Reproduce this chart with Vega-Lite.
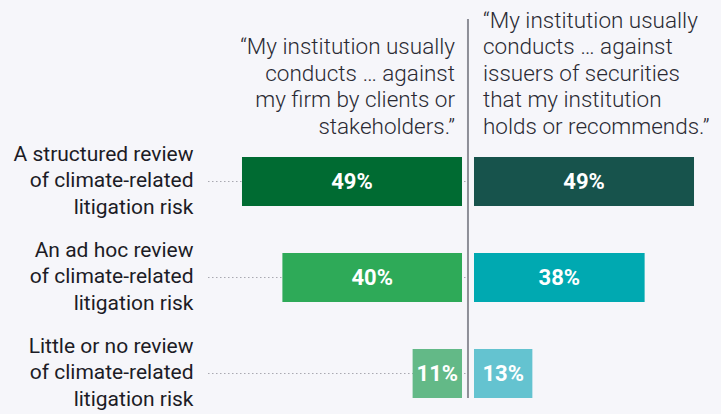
{
  "$schema": "https://vega.github.io/schema/vega-lite/v6.json",
  "autosize": {"type": "none"},
  "padding": {"left": 208, "top": 19, "right": 0, "bottom": 16},
  "width": 513,
  "height": 379,
  "background": "#f6f6fa",
  "config": {
    "view": {"stroke": null},
    "axisY": {
      "title": null,
      "domain": false,
      "ticks": false,
      "grid": false,
      "labelPadding": 15,
      "labelFont": "Roboto",
      "labelFontSize": 21,
      "labelColor": "#1c1c26",
      "labelAlign": "right",
      "labelBaseline": "middle",
      "labelLineHeight": 26.5,
      "labelOffset": -27,
      "labelLimit": 300,
      "labelExpr": "split(datum.label, '|')"
    }
  },
  "datasets": {
    "left": [
      {"label": "A structured review|of climate-related|litigation risk", "value": 0.49},
      {"label": "An ad hoc review|of climate-related|litigation risk", "value": 0.40},
      {"label": "Little or no review|of climate-related|litigation risk", "value": 0.11}
    ],
    "right": [
      {"label": "A structured review|of climate-related|litigation risk", "value": 0.49},
      {"label": "An ad hoc review|of climate-related|litigation risk", "value": 0.38},
      {"label": "Little or no review|of climate-related|litigation risk", "value": 0.13}
    ]
  },
  "layer": [
    {
      "data": {"name": "left"},
      "layer": [
        {
          "mark": {"type": "rule", "strokeDash": [1.5, 2.5], "color": "#a8a8b0", "strokeWidth": 1},
          "encoding": {
            "y": {
              "field": "label", "type": "nominal",
              "scale": {
                "domain": [
                  "A structured review|of climate-related|litigation risk",
                  "An ad hoc review|of climate-related|litigation risk",
                  "Little or no review|of climate-related|litigation risk"
                ],
                "paddingInner": 0.49, "paddingOuter": 0.719, "align": 1
              }
            },
            "x": {"datum": 0.5657, "type": "quantitative", "scale": {"domain": [-0.5768, 0.5657], "reverse": true, "nice": false}, "axis": null},
            "x2": {"datum": -0.01}
          }
        },
        {
          "mark": {"type": "bar"},
          "encoding": {
            "y": {"field": "label", "type": "nominal"},
            "x": {"field": "value", "type": "quantitative"},
            "color": {
              "field": "label", "type": "nominal", "legend": null,
              "scale": {
                "domain": [
                  "A structured review|of climate-related|litigation risk",
                  "An ad hoc review|of climate-related|litigation risk",
                  "Little or no review|of climate-related|litigation risk"
                ],
                "range": ["#006b32", "#2eaa58", "#63b987"]
              }
            }
          }
        },
        {
          "mark": {"type": "text", "color": "white", "font": "Roboto", "fontWeight": "bold", "fontSize": 22},
          "encoding": {
            "y": {"field": "label", "type": "nominal"},
            "x": {"field": "value", "type": "quantitative", "stack": "zero", "bandPosition": 0.5},
            "text": {"field": "value", "type": "quantitative", "format": ".0%"}
          }
        },
        {
          "data": {"values": [{"t": "“My institution usually|conducts … against|my firm by clients or|stakeholders.”"}]},
          "mark": {"type": "text", "align": "right", "baseline": "alphabetic", "lineBreak": "|", "lineHeight": 26.5, "font": "Roboto", "fontWeight": 300, "fontSize": 22.5, "color": "#2a2a33", "dx": -7, "dy": -103},
          "encoding": {
            "y": {"datum": "A structured review|of climate-related|litigation risk", "type": "nominal", "bandPosition": 0},
            "x": {"datum": 0, "type": "quantitative"},
            "text": {"field": "t"}
          }
        }
      ]
    },
    {
      "data": {"name": "right"},
      "layer": [
        {
          "mark": {"type": "bar"},
          "encoding": {
            "y": {"field": "label", "type": "nominal"},
            "x": {"field": "value", "type": "quantitative", "scale": {"domain": [-0.5924, 0.5501], "nice": false}, "axis": null},
            "color": {
              "field": "label", "type": "nominal", "legend": null,
              "scale": {
                "domain": [
                  "A structured review|of climate-related|litigation risk",
                  "An ad hoc review|of climate-related|litigation risk",
                  "Little or no review|of climate-related|litigation risk"
                ],
                "range": ["#17534c", "#00a9b1", "#64c3d0"]
              }
            }
          }
        },
        {
          "mark": {"type": "text", "color": "white", "font": "Roboto", "fontWeight": "bold", "fontSize": 22},
          "encoding": {
            "y": {"field": "label", "type": "nominal"},
            "x": {"field": "value", "type": "quantitative", "stack": "zero", "bandPosition": 0.5},
            "text": {"field": "value", "type": "quantitative", "format": ".0%"}
          }
        },
        {
          "data": {"values": [{"t": "“My institution usually|conducts … against|issuers of securities|that my institution|holds or recommends.”"}]},
          "mark": {"type": "text", "align": "left", "baseline": "alphabetic", "lineBreak": "|", "lineHeight": 26.5, "font": "Roboto", "fontWeight": 300, "fontSize": 22.5, "color": "#2a2a33", "dx": 9, "dy": -129.5},
          "encoding": {
            "y": {"datum": "A structured review|of climate-related|litigation risk", "type": "nominal", "bandPosition": 0},
            "x": {"datum": 0, "type": "quantitative"},
            "text": {"field": "t"}
          }
        },
        {
          "data": {"values": [{}]},
          "mark": {"type": "rule", "color": "#8e8f98", "strokeWidth": 2},
          "encoding": {
            "x": {"datum": -0.0134, "type": "quantitative"}
          }
        }
      ]
    }
  ],
  "resolve": {"scale": {"x": "independent", "color": "independent"}}
}
